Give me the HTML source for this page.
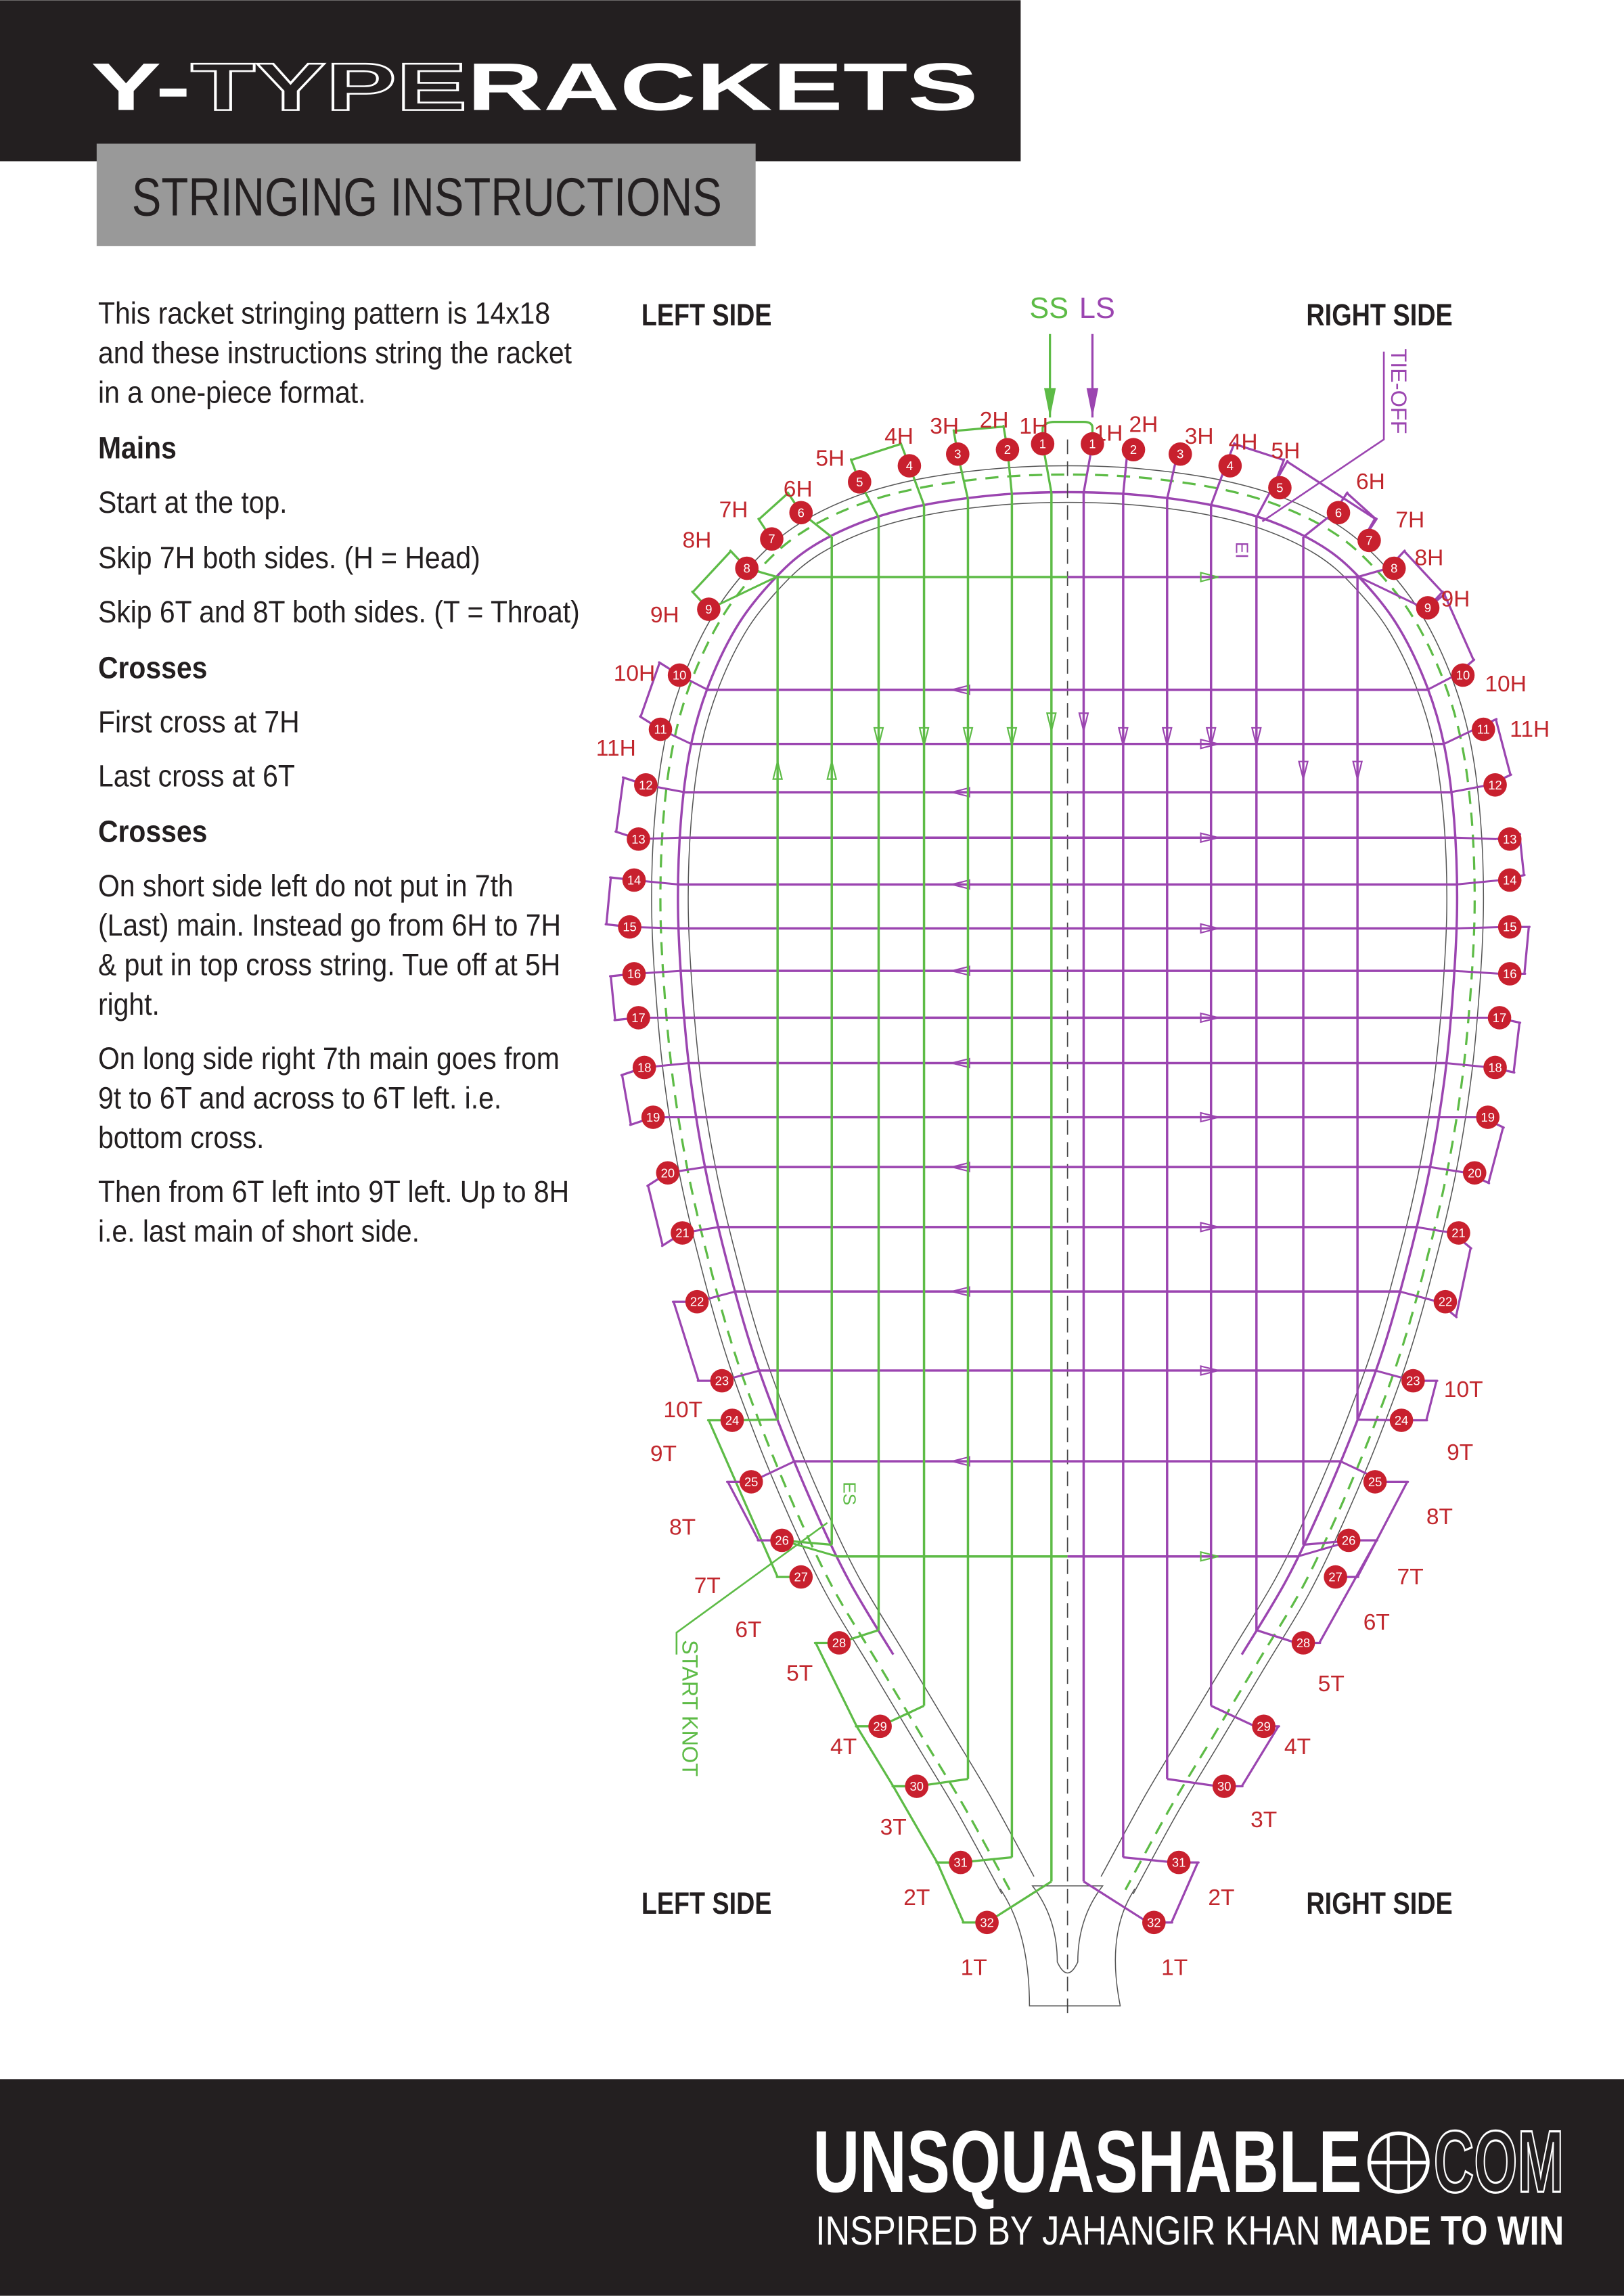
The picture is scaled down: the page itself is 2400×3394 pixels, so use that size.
<!DOCTYPE html>
<html><head><meta charset="utf-8"><style>
html,body{margin:0;padding:0;background:#fff}
svg{display:block}
.b{font-family:"Liberation Sans Narrow","Liberation Sans",sans-serif}
.lab{font-family:"Liberation Sans Narrow","Liberation Sans",sans-serif;font-size:15.5px;fill:#c1272d}
.hn{font-family:"Liberation Sans Narrow","Liberation Sans",sans-serif;font-size:8.5px;fill:#fff;text-anchor:middle}
</style></head><body>
<svg id="s" width="2400" height="3394" viewBox="0 0 1109 1568" xmlns="http://www.w3.org/2000/svg">
<rect x="0" y="0" width="697" height="110" fill="#231f20"/>
<text x="62" y="75" font-family="Liberation Sans" font-weight="bold" font-size="46" fill="#fff" textLength="606" lengthAdjust="spacingAndGlyphs">Y-<tspan fill="#231f20" stroke="#fff" stroke-width="1.2">TYPE</tspan>RACKETS</text>
<rect x="66" y="98" width="450" height="70" fill="#999"/>
<text x="90" y="147" class="b" font-size="37" fill="#231f20" textLength="403" lengthAdjust="spacingAndGlyphs">STRINGING INSTRUCTIONS</text>

<g class="b" font-size="21" fill="#231f20" transform="translate(67,0) scale(0.9,1) translate(-67,0)">
<text x="67" y="221">This racket stringing pattern is 14x18</text>
<text x="67" y="248">and these instructions string the racket</text>
<text x="67" y="275">in a one-piece format.</text>
<text x="67" y="313" font-weight="bold">Mains</text>
<text x="67" y="350">Start at the top.</text>
<text x="67" y="388">Skip 7H both sides. (H = Head)</text>
<text x="67" y="425">Skip 6T and 8T both sides. (T = Throat)</text>
<text x="67" y="463" font-weight="bold">Crosses</text>
<text x="67" y="500">First cross at 7H</text>
<text x="67" y="537">Last cross at 6T</text>
<text x="67" y="575" font-weight="bold">Crosses</text>
<text x="67" y="612">On short side left do not put in 7th</text>
<text x="67" y="639">(Last) main. Instead go from 6H to 7H</text>
<text x="67" y="666">&amp; put in top cross string. Tue off at 5H</text>
<text x="67" y="693">right.</text>
<text x="67" y="730">On long side right 7th main goes from</text>
<text x="67" y="757">9t to 6T and across to 6T left. i.e.</text>
<text x="67" y="784">bottom cross.</text>
<text x="67" y="821">Then from 6T left into 9T left. Up to 8H</text>
<text x="67" y="848">i.e. last main of short side.</text>
</g>

<g class="b" font-size="21" font-weight="bold" fill="#231f20">
<text x="438" y="222" textLength="89" lengthAdjust="spacingAndGlyphs">LEFT SIDE</text><text x="892" y="222" textLength="100" lengthAdjust="spacingAndGlyphs">RIGHT SIDE</text>
<text x="438" y="1307" textLength="89" lengthAdjust="spacingAndGlyphs">LEFT SIDE</text><text x="892" y="1307" textLength="100" lengthAdjust="spacingAndGlyphs">RIGHT SIDE</text>
</g>
<text x="703" y="217" class="b" font-size="20" fill="#5dbb46">SS</text>
<text x="737" y="217" class="b" font-size="20" fill="#9b45b0">LS</text>
<text transform="translate(950,238) rotate(90)" class="b" font-size="15" fill="#9b45b0">TIE-OFF</text>
<text transform="translate(466,1120) rotate(90)" class="b" font-size="15" fill="#5dbb46">START KNOT</text>
<text transform="translate(576,1012) rotate(90)" class="b" font-size="12" fill="#5dbb46">ES</text>
<text transform="translate(844,370) rotate(90)" class="b" font-size="12" fill="#9b45b0">EI</text>

<g id="lines"></g>
<g id="holes"></g>

<g id="hl">
<text class="hn" x="712" y="306">1</text><text class="hn" x="688" y="310">2</text><text class="hn" x="654" y="313">3</text><text class="hn" x="621" y="321">4</text><text class="hn" x="587" y="332">5</text><text class="hn" x="547" y="353">6</text><text class="hn" x="527" y="371">7</text><text class="hn" x="510" y="391">8</text><text class="hn" x="484" y="419">9</text><text class="hn" x="464" y="464">10</text><text class="hn" x="451" y="501">11</text><text class="hn" x="441" y="539">12</text><text class="hn" x="436" y="576">13</text><text class="hn" x="433" y="604">14</text><text class="hn" x="430" y="636">15</text><text class="hn" x="433" y="668">16</text><text class="hn" x="436" y="698">17</text><text class="hn" x="440" y="732">18</text><text class="hn" x="446" y="766">19</text><text class="hn" x="456" y="804">20</text><text class="hn" x="466" y="845">21</text><text class="hn" x="476" y="892">22</text><text class="hn" x="493" y="946">23</text><text class="hn" x="500" y="973">24</text><text class="hn" x="513" y="1015">25</text><text class="hn" x="534" y="1055">26</text><text class="hn" x="547" y="1080">27</text><text class="hn" x="573" y="1125">28</text><text class="hn" x="601" y="1182">29</text><text class="hn" x="626" y="1223">30</text><text class="hn" x="656" y="1275">31</text><text class="hn" x="674" y="1316">32</text>
<text class="hn" x="746" y="306">1</text><text class="hn" x="774" y="310">2</text><text class="hn" x="806" y="313">3</text><text class="hn" x="840" y="321">4</text><text class="hn" x="874" y="336">5</text><text class="hn" x="914" y="353">6</text><text class="hn" x="935" y="372">7</text><text class="hn" x="952" y="391">8</text><text class="hn" x="975" y="418">9</text><text class="hn" x="999" y="464">10</text><text class="hn" x="1013" y="501">11</text><text class="hn" x="1021" y="539">12</text><text class="hn" x="1031" y="576">13</text><text class="hn" x="1031" y="604">14</text><text class="hn" x="1031" y="636">15</text><text class="hn" x="1031" y="668">16</text><text class="hn" x="1024" y="698">17</text><text class="hn" x="1021" y="732">18</text><text class="hn" x="1016" y="766">19</text><text class="hn" x="1007" y="804">20</text><text class="hn" x="996" y="845">21</text><text class="hn" x="987" y="892">22</text><text class="hn" x="965" y="946">23</text><text class="hn" x="957" y="973">24</text><text class="hn" x="939" y="1015">25</text><text class="hn" x="921" y="1055">26</text><text class="hn" x="912" y="1080">27</text><text class="hn" x="890" y="1125">28</text><text class="hn" x="863" y="1182">29</text><text class="hn" x="836" y="1223">30</text><text class="hn" x="805" y="1275">31</text><text class="hn" x="788" y="1316">32</text>
</g>

<g class="lab">
<text x="696" y="296">1H</text><text x="669" y="292">2H</text><text x="635" y="296">3H</text><text x="604" y="303">4H</text><text x="557" y="318">5H</text><text x="535" y="339">6H</text><text x="491" y="353">7H</text><text x="466" y="374">8H</text><text x="444" y="425">9H</text><text x="419" y="465">10H</text><text x="407" y="516">11H</text>
<text x="747" y="301">1H</text><text x="771" y="295">2H</text><text x="809" y="303">3H</text><text x="839" y="307">4H</text><text x="868" y="313">5H</text><text x="926" y="334">6H</text><text x="953" y="360">7H</text><text x="966" y="386">8H</text><text x="984" y="414">9H</text><text x="1014" y="472">10H</text><text x="1031" y="503">11H</text>
<text x="453" y="968">10T</text><text x="444" y="998">9T</text><text x="457" y="1048">8T</text><text x="474" y="1088">7T</text><text x="502" y="1118">6T</text><text x="537" y="1148">5T</text><text x="567" y="1198">4T</text><text x="601" y="1253">3T</text><text x="617" y="1301">2T</text><text x="656" y="1349">1T</text>
<text x="986" y="954">10T</text><text x="988" y="997">9T</text><text x="974" y="1041">8T</text><text x="954" y="1082">7T</text><text x="931" y="1113">6T</text><text x="900" y="1155">5T</text><text x="877" y="1198">4T</text><text x="854" y="1248">3T</text><text x="825" y="1301">2T</text><text x="793" y="1349">1T</text>
</g>

<rect x="0" y="1420" width="1109" height="148" fill="#231f20"/>
<text x="555" y="1497" font-family="Liberation Sans Narrow,Liberation Sans,sans-serif" font-weight="bold" font-size="60" fill="#fff" textLength="375" lengthAdjust="spacingAndGlyphs">UNSQUASHABLE</text>
<circle cx="955" cy="1477" r="20" fill="none" stroke="#fff" stroke-width="2.5"/>
<line x1="935" y1="1477" x2="975" y2="1477" stroke="#fff" stroke-width="2.5"/>
<line x1="948" y1="1458" x2="948" y2="1496" stroke="#fff" stroke-width="2"/><line x1="962" y1="1458" x2="962" y2="1496" stroke="#fff" stroke-width="2"/>
<text x="979" y="1497" font-family="Liberation Sans Narrow,Liberation Sans,sans-serif" font-weight="bold" font-size="60" fill="#231f20" stroke="#fff" stroke-width="1.5" textLength="89" lengthAdjust="spacingAndGlyphs">COM</text>
<text x="557" y="1533" font-family="Liberation Sans Narrow,Liberation Sans,sans-serif" font-size="28" fill="#fff" textLength="511" lengthAdjust="spacingAndGlyphs">INSPIRED BY JAHANGIR KHAN <tspan font-weight="bold">MADE TO WIN</tspan></text>
</svg>
<script>
(function(){
var NS="http://www.w3.org/2000/svg";
var G=document.getElementById("lines"),H=document.getElementById("holes");
function el(p,t,a){var e=document.createElementNS(NS,t);for(var k in a)e.setAttribute(k,a[k]);p.appendChild(e);return e;}
var L=[[712,303],[688,307],[654,310],[621,318],[587,329],[547,350],[527,368],[510,388],[484,416],[464,461],[451,498],[441,536],[436,573],[433,601],[430,633],[433,665],[436,695],[440,729],[446,763],[456,801],[466,842],[476,889],[493,943],[500,970],[513,1012],[534,1052],[547,1077],[573,1122],[601,1179],[626,1220],[656,1272],[674,1313]];
var C=729;
var base=[[729,336],[680,338],[630,345],[590,356],[555,373],[530,394],[505,425],[485,465],[472,508],[465,560],[463,620],[466,680],[472,740],[482,800],[496,860],[513,920],[533,975],[556,1030],[580,1080],[610,1130],[640,1180],[670,1230],[700,1285]];
function offs(pts,d){var r=[];for(var i=0;i<pts.length;i++){var a=pts[Math.max(0,i-1)],b=pts[Math.min(pts.length-1,i+1)];var tx=b[0]-a[0],ty=b[1]-a[1],n=Math.hypot(tx,ty)||1;var nx=-ty/n,ny=tx/n;var cx=C-pts[i][0],cy=650-pts[i][1];if(pts[i][1]>900)cy=0;if(i==0){nx=0;ny=1;}if(nx*cx+ny*cy<0){nx=-nx;ny=-ny;}r.push([pts[i][0]+nx*d,pts[i][1]+ny*d]);}return r;}
function mir(p){return p.map(function(q){return [2*C-q[0],q[1]];});}
function path(pts){var s="M"+pts[0][0].toFixed(1)+","+pts[0][1].toFixed(1);for(var i=0;i<pts.length-1;i++){var p0=pts[Math.max(0,i-1)],p1=pts[i],p2=pts[i+1],p3=pts[Math.min(pts.length-1,i+2)];s+="C"+(p1[0]+(p2[0]-p0[0])/6).toFixed(1)+","+(p1[1]+(p2[1]-p0[1])/6).toFixed(1)+" "+(p2[0]-(p3[0]-p1[0])/6).toFixed(1)+","+(p2[1]-(p3[1]-p1[1])/6).toFixed(1)+" "+p2[0].toFixed(1)+","+p2[1].toFixed(1);}return s;}
function full(d,n){var l=offs(base,d);if(n)l=l.slice(0,n);return l.slice().reverse().concat(mir(l).slice(1));}
el(G,"path",{d:path(full(-18)),fill:"none",stroke:"#555","stroke-width":0.7});
el(G,"path",{d:path(full(-12)),fill:"none",stroke:"#5dbb46","stroke-width":1.5,"stroke-dasharray":"9 6"});
el(G,"path",{d:path(full(0,20)),fill:"none",stroke:"#9b45b0","stroke-width":1.6});
el(G,"path",{d:path(full(7)),fill:"none",stroke:"#555","stroke-width":0.7});
el(G,"path",{d:"M683,1290 Q703,1320 703,1370 L765,1370 Q755,1320 775,1290",fill:"none",stroke:"#555","stroke-width":0.7});
el(G,"path",{d:"M705,1288 Q722,1310 722,1340 Q729,1355 736,1340 Q736,1310 753,1288 Z",fill:"none",stroke:"#555","stroke-width":0.7});
el(G,"line",{x1:C,y1:300,x2:C,y2:1375,stroke:"#444","stroke-width":0.8,"stroke-dasharray":"10 5"});
var pur=base;
function xAt(y){for(var i=0;i<pur.length-1;i++){var a=pur[i],b=pur[i+1];if((a[1]-y)*(b[1]-y)<=0&&a[1]!=b[1]){return a[0]+(b[0]-a[0])*(y-a[1])/(b[1]-a[1]);}}return pur[pur.length-1][0];}
function yAt(x,top){var r=null;for(var i=0;i<pur.length-1;i++){var a=pur[i],b=pur[i+1];if((a[0]-x)*(b[0]-x)<=0&&a[0]!=b[0]){var y=a[1]+(b[1]-a[1])*(x-a[0])/(b[0]-a[0]);if(top&&y<620){if(r===null)r=y;}if(!top&&y>620)r=y;}}return r;}
var GR="#5dbb46",PU="#9b45b0";
var crosses=[394,471,508,541,572,604,634,663,695,726,763,797,838,882,936,998,1063];
crosses.forEach(function(y,i){var xl=xAt(y),xr=2*C-xl;var col=(i==0||i==16)?GR:PU;
 if(i==0||i==16){el(G,"line",{x1:xl,y1:y,x2:C,y2:y,stroke:GR,"stroke-width":1.6});el(G,"line",{x1:C,y1:y,x2:xr,y2:y,stroke:PU,"stroke-width":1.6});}
 else el(G,"line",{x1:xl,y1:y,x2:xr,y2:y,stroke:col,"stroke-width":1.6});
 var ax=(i%2)?650:820;el(G,"path",{d:"M"+ax+","+(y-3)+" l12,3 l-12,3 z",fill:"none",stroke:col,"stroke-width":1,transform:(i%2)?"rotate(180 "+(ax+6)+" "+y+")":""});
});
var mx=[531,568,600,631,661,691,718];
var topH=[7,5,4,3,2,1,0],botH=[23,25,27,28,29,30,31];
mx.forEach(function(x,i){var t=yAt(x,true)||336,b=yAt(x,false)||1285;if(i==0)t=394;
 el(G,"line",{x1:x,y1:t,x2:x,y2:b,stroke:GR,"stroke-width":1.6});
 var xr=2*C-x;el(G,"line",{x1:xr,y1:t,x2:xr,y2:b,stroke:PU,"stroke-width":1.6});
 var h=L[topH[i]];el(G,"line",{x1:h[0],y1:h[1],x2:x,y2:t,stroke:GR,"stroke-width":1.5});
 el(G,"line",{x1:2*C-h[0],y1:h[1],x2:xr,y2:t,stroke:PU,"stroke-width":1.5});
 var bb=L[botH[i]];el(G,"line",{x1:bb[0],y1:bb[1],x2:x,y2:b,stroke:GR,"stroke-width":1.5});
 el(G,"line",{x1:2*C-bb[0],y1:bb[1],x2:xr,y2:b,stroke:PU,"stroke-width":1.5});
 var ay=(i<2)?520:(i==6?487:497), up=(i<2);
 el(G,"path",{d:up?"M"+(x-3)+","+(ay+12)+" l3,-12 l3,12 z":"M"+(x-3)+","+ay+" l3,12 l3,-12 z",fill:"none",stroke:GR,"stroke-width":1});
 el(G,"path",{d:"M"+(xr-3)+","+ay+" l3,12 l3,-12 z",fill:"none",stroke:PU,"stroke-width":1});
});
crosses.forEach(function(y,i){var best=0,bd=1e9;for(var k=8;k<27;k++){var d=Math.abs(L[k][1]-y);if(d<bd){bd=d;best=k;}}var h=L[best],xl=xAt(y);
 el(G,"line",{x1:h[0],y1:h[1],x2:xl,y2:y,stroke:i==0||i==16?GR:PU,"stroke-width":1.4});
 el(G,"line",{x1:2*C-h[0],y1:h[1],x2:2*C-xl,y2:y,stroke:PU,"stroke-width":1.4});});
function loop(a,b,col,right){var p=L[a],q=L[b];if(right){p=[2*C-p[0],p[1]];q=[2*C-q[0],q[1]];}
 var mxx=(p[0]+q[0])/2,my=(p[1]+q[1])/2;var dx=mxx-C,dy=my-650;if(my>900)dy=0;var n=Math.hypot(dx,dy);var o=16;
 var ox=dx/n*o,oy=dy/n*o;el(G,"path",{d:"M"+p[0]+","+p[1]+" Q"+(p[0]+ox*1.2)+","+(p[1]+oy*1.2)+" "+(p[0]+ox)+","+(p[1]+oy)+" L"+(q[0]+ox)+","+(q[1]+oy)+" Q"+(q[0]+ox*1.2)+","+(q[1]+oy*1.2)+" "+q[0]+","+q[1],fill:"none",stroke:col,"stroke-width":1.5,"stroke-linejoin":"round"});}
[[1,2,GR],[3,4,GR],[5,6,GR],[7,8,GR],[9,10,PU],[11,12,PU],[13,14,PU],[15,16,PU],[17,18,PU],[19,20,PU],[21,22,PU],[23,26,GR],[24,25,PU],[27,28,GR],[28,29,GR],[29,30,GR],[30,31,GR]].forEach(function(a){loop(a[0],a[1],a[2],false);});
[[3,4,PU],[4,6,PU],[5,6,PU],[7,8,PU],[8,9,PU],[10,11,PU],[12,13,PU],[14,15,PU],[16,17,PU],[18,19,PU],[20,21,PU],[22,23,PU],[24,26,PU],[25,27,PU],[28,29,PU],[30,31,PU]].forEach(function(a){loop(a[0],a[1],a[2],true);});
el(G,"path",{d:"M712,303 L712,292 Q714,288 720,288 L740,288 Q746,288 746,292 L746,303",fill:"none",stroke:GR,"stroke-width":1.5});
el(G,"line",{x1:717,y1:228,x2:717,y2:285,stroke:GR,"stroke-width":1.5});el(G,"path",{d:"M713,265 L717,285 L721,265 z",fill:GR});
el(G,"line",{x1:746,y1:228,x2:746,y2:285,stroke:PU,"stroke-width":1.5});el(G,"path",{d:"M742,265 L746,285 L750,265 z",fill:PU});
el(G,"path",{d:"M945,240 L945,300 L862,356",fill:"none",stroke:PU,"stroke-width":1.2});
el(G,"path",{d:"M462,1130 L462,1115 L565,1040",fill:"none",stroke:GR,"stroke-width":1.2});
var ts=document.querySelectorAll("#hl text");
for(var i=0;i<ts.length;i++){var x=+ts[i].getAttribute("x"),y=+ts[i].getAttribute("y")-3;el(H,"circle",{cx:x,cy:y,r:8,fill:"#c8202e"});}
})();
</script>
</body></html>
